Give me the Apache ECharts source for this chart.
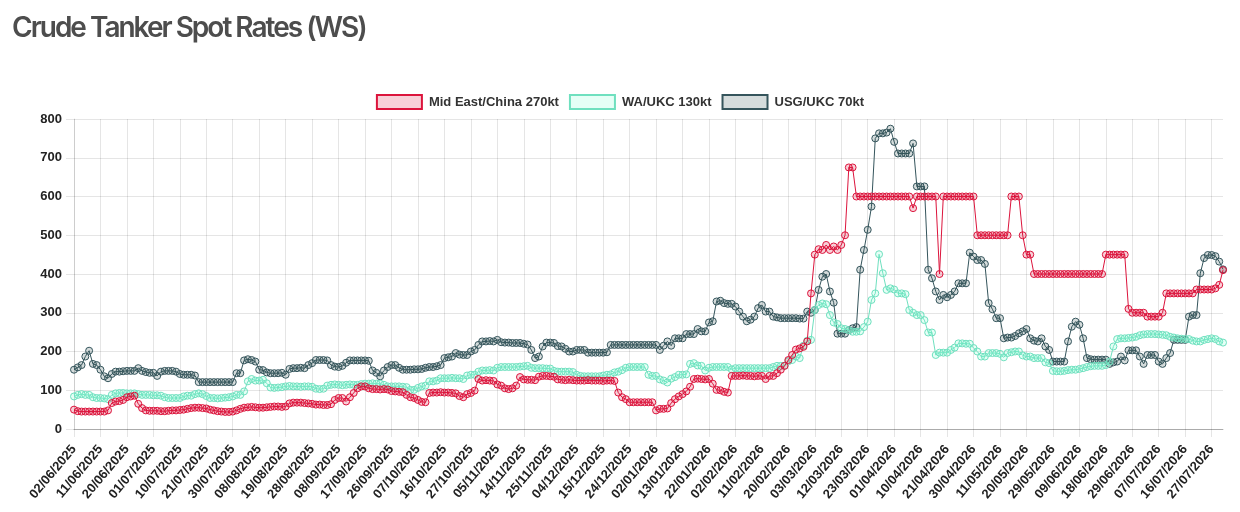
<!DOCTYPE html>
<html>
<head>
<meta charset="utf-8">
<script src="https://cdn.jsdelivr.net/npm/echarts/dist/echarts.min.js"></script>
<style>
  html, body { margin: 0; padding: 0; background: #fff; }
  #wrap { position: relative; width: 1240px; height: 512px; }
  #chart { width: 1240px; height: 512px; }
  #title {
    position: absolute; left: 12px; top: 13px; margin: 0;
    font-family: Inter, sans-serif; font-weight: 600; font-size: 28px;
    line-height: 28px; letter-spacing: -2px; color: #4d4d4d; z-index: 2;
  }
</style>
</head>
<body>
<div id="wrap">
  <h2 id="title">Crude Tanker Spot Rates (WS)</h2>
  <div id="chart"></div>
</div>
<script>
// trading days: weekdays from START to END, plus the odd extra date in the source
var START = '2025-06-02';
var END = '2026-07-30';
var EXTRA_DAYS = ['2026-07-04'];

var midEastChina = [
  50,46,45,45,45,45,45,45,45,48, 67,71,72,75,82,84,86,65,54,
  48,47,47,47,46,46,47,48,48,49,50,52, 54,55,55,54,53, 50,48,46,45,44,44,45,
  48,52,55,56,57,56,55, 55,56,57,58,58,57,58, 66,68,68,68,67,66,65,
  63,63,62,62,64, 75,80,80, 71, 82, 93, 105,110,110, 105,103,103,102,103,102,
  98,97,96,95, 88,82,80, 75, 70,69, 93, 94,94,95,94,94,
  93,92,85,82,90,93,99, 129, 125,126,125,124, 115,112, 105,103, 105,112, 134,
  128,127,127,126, 135,137,137,136,135, 128,127,126,127,126,125,
  125,125,126,125,125,125,124,125,125,124, 94,82,77, 69,69,69,69,69,69,69,
  48, 52,52,53, 67,77,84,90,97,109, 129,130,129,128,129, 117,101,100,96,94,
  137,137,137,138,137,137,136,137,137, 129,137,137,
  144,153,163,178,191,205,208,212,226, 350,450,464,462,475,462,471,462,475,500,
  675,675, 600,600,600,600,600,600,600,600,600,600,600,600,600,600,600,
  570, 600,600,600,600,600,600, 400, 600,600,600,600,600,600,600,600,600,
  500,500,500,500,500,500,500,500,500, 600,600,600, 500,450,450,
  400,400,400,400,400,400,400,400,400,400,400,400,400,400,400,400,400,400,400,
  450,450,450,450,450,450, 310, 300,300,300,300, 290,290,290,290, 300,
  350,350,350,350,350,350,350,350, 360,360,360,360,360, 363,372,410
];

var waUkc = [
  84, 88,90,88,88, 82,80,80,79,77, 88,92,93,93,92,92,92, 90,88,88,88,87,87,86,
  82,80,80,80,80, 84,86,86, 90,92,90, 85,80,80,79,80, 81,82,84, 88,88,
  97,123,129, 125,125,127, 118, 107,106,107,108, 110,111,110,110,109,110,110,109,
  104,103,104, 112,114,115,114,113,114,115,114,114, 116,117,117,118,117,117,114,
  110,110,110,110,109,108, 101,101, 106,110,112, 123,123,125,
  131,131,131,132,131,131, 129, 138,140,140, 148,151,151,152,151,
  158,160,160,160,160,160,161, 162,163, 158,157,157,157,156,156,
  150,148,148,148,148,147, 140,137,136,136,136,136,136, 138,140,141, 146,148,152,
  158,160,160,160,160,160, 140,137,137, 128,125,120, 130,134, 140,140,141,
  168,170, 164,163,151, 158,160,160,160,160,160, 154,
  157,157,157,157,157,157,157,157,157,157, 160,163,163,163, 175,178,187,183,
  215,228,230, 307,320,324,322, 294,275,271, 260,258,255,251,251,252,
  263,277,333,350, 451,402,359, 363,360,350,350,348, 307,300,294,294,281,
  249,249,191, 197,197,197,204,210, 221,221,220,220,209, 200,187,187,
  196,196,196,194,185, 196,198,200,200, 190,187,187,183,183,183, 172,170,
  150,149,149,150, 152,153,153,155,157, 160,162,163,163,163,165, 174,213,
  232,234,234,235,236,238, 242,244,245,245,245,244,243,242,
  238,236,234,233,232,232, 228,226,226, 230,232,234,232, 226,223
];

var usgUkc = [
  153,159,165,187,202,168,165,153,136,131,142, 148,148,149,150,150,150, 157,
  150,147,145,145,137, 148,150,150,150,148, 142,140,140,140,138,
  121,121,121,121,121,121,121,121,121,121, 144,144,177,180,178,174, 153,152,
  146,144,144,144,145,140, 155,157,157,158,157, 165,170, 178,178,178,177,
  165,161,160,163,171, 177,177,177,177,177,176, 151,145,136,151,160,
  165,165,158, 153,153,153,154,154,155, 158,160,160,162,165, 183,185,187,
  196,192,191,191, 200,204,217, 226,226,227,226,230, 224,223,223,222,222,222,220,218,
  204,183,187,213, 223,223,222,214,213,207, 200,200,204,204,204, 197,197,197,197,197,198,
  217,217,217,217,217,217,217,217,217,217,217,217,217, 204,215,226,215,
  234,234,234,245,245,245, 258,252,252,275,278, 329,331,325,323,323,316,
  303,290,278,282,290, 312,320,303,303, 290,288,286,286,286,286,286,285,285,
  303,300,307,359,393,400,355,326, 246,246,246,255,260,263,
  411,462,514,574,750, 763,763,765,775,741, 711,711,711,711,737, 626,626,626,
  411,389,355,333, 346,340,346,355,376,376,376, 455,445,436,436,426,
  325,309,286,286, 234,236,236,240,247,252,258, 234,228,226,234,213,204,
  174,174,174,174, 226,264,277,269,234,183, 180,179,179,179,179,
  168,172,174,187,177, 203,203,203,187,168, 191,191,191,174,168,
  183,196,230,230,230,230, 290,294,294, 402,441,449,449,446,432,412
];

var yTicks = [0, 100, 200, 300, 400, 500, 600, 700, 800];

function pad(n) { return (n < 10 ? '0' : '') + n; }
function buildDays() {
  var out = [];
  var d = new Date(START + 'T12:00:00Z');
  var end = new Date(END + 'T12:00:00Z');
  while (d <= end) {
    var iso = d.toISOString().slice(0, 10);
    var wd = d.getUTCDay();
    if ((wd !== 0 && wd !== 6) || EXTRA_DAYS.indexOf(iso) >= 0) {
      out.push(pad(d.getUTCDate()) + '/' + pad(d.getUTCMonth() + 1) + '/' + d.getUTCFullYear());
    }
    d.setUTCDate(d.getUTCDate() + 1);
  }
  return out;
}
var days = buildDays();

var chart = echarts.init(document.getElementById('chart'));
var gridColor = 'rgba(0,0,0,0.1)';
var labelFont = { color: '#222', fontWeight: 'bold', fontSize: 13, fontFamily: 'Liberation Sans, Arial, sans-serif' };

function lineSeries(name, data, line, fill, z) {
  return {
    name: name,
    type: 'line',
    data: data,
    z: z,
    symbol: 'circle',
    symbolSize: 7,
    showAllSymbol: true,
    lineStyle: { color: line, width: 1 },
    itemStyle: { color: fill, borderColor: line, borderWidth: 1 },
    emphasis: { disabled: true }
  };
}

var option = {
  animation: false,
  backgroundColor: '#fff',
  legend: {
    top: 94,
    left: 'center',
    padding: 0,
    itemWidth: 45,
    itemHeight: 14,
    itemGap: 10,
    icon: 'rect',
    data: ['Mid East/China 270kt', 'WA/UKC 130kt', 'USG/UKC 70kt'],
    textStyle: { color: '#333', fontWeight: 'bold', fontSize: 13, padding: [0, 0, 0, 2],
      fontFamily: 'Liberation Sans, Arial, sans-serif' }
  },
  grid: { left: 74, right: 17, top: 119, bottom: 83, containLabel: false },
  xAxis: {
    type: 'category',
    data: days,
    boundaryGap: false,
    axisLine: { lineStyle: { color: 'rgba(0,0,0,0.25)' } },
    axisTick: { show: true, interval: 6, length: 8, lineStyle: { color: gridColor } },
    splitLine: { show: true, interval: 6, lineStyle: { color: gridColor } },
    axisLabel: Object.assign({ interval: 6, rotate: 50, margin: 18 }, labelFont)
  },
  yAxis: {
    type: 'value',
    min: yTicks[0],
    max: yTicks[yTicks.length - 1],
    interval: 100,
    axisLine: { show: true, lineStyle: { color: gridColor } },
    axisTick: { show: true, length: 8, lineStyle: { color: gridColor } },
    splitLine: { lineStyle: { color: gridColor } },
    axisLabel: Object.assign({ margin: 12 }, labelFont)
  },
  series: [
    lineSeries('USG/UKC 70kt', usgUkc, '#35555c', 'rgba(47,79,79,0.2)', 2),
    lineSeries('WA/UKC 130kt', waUkc, '#6fe0bf', 'rgba(127,255,212,0.2)', 3),
    lineSeries('Mid East/China 270kt', midEastChina, '#dc143c', 'rgba(220,20,60,0.2)', 4)
  ]
};
chart.setOption(option);
</script>
</body>
</html>
